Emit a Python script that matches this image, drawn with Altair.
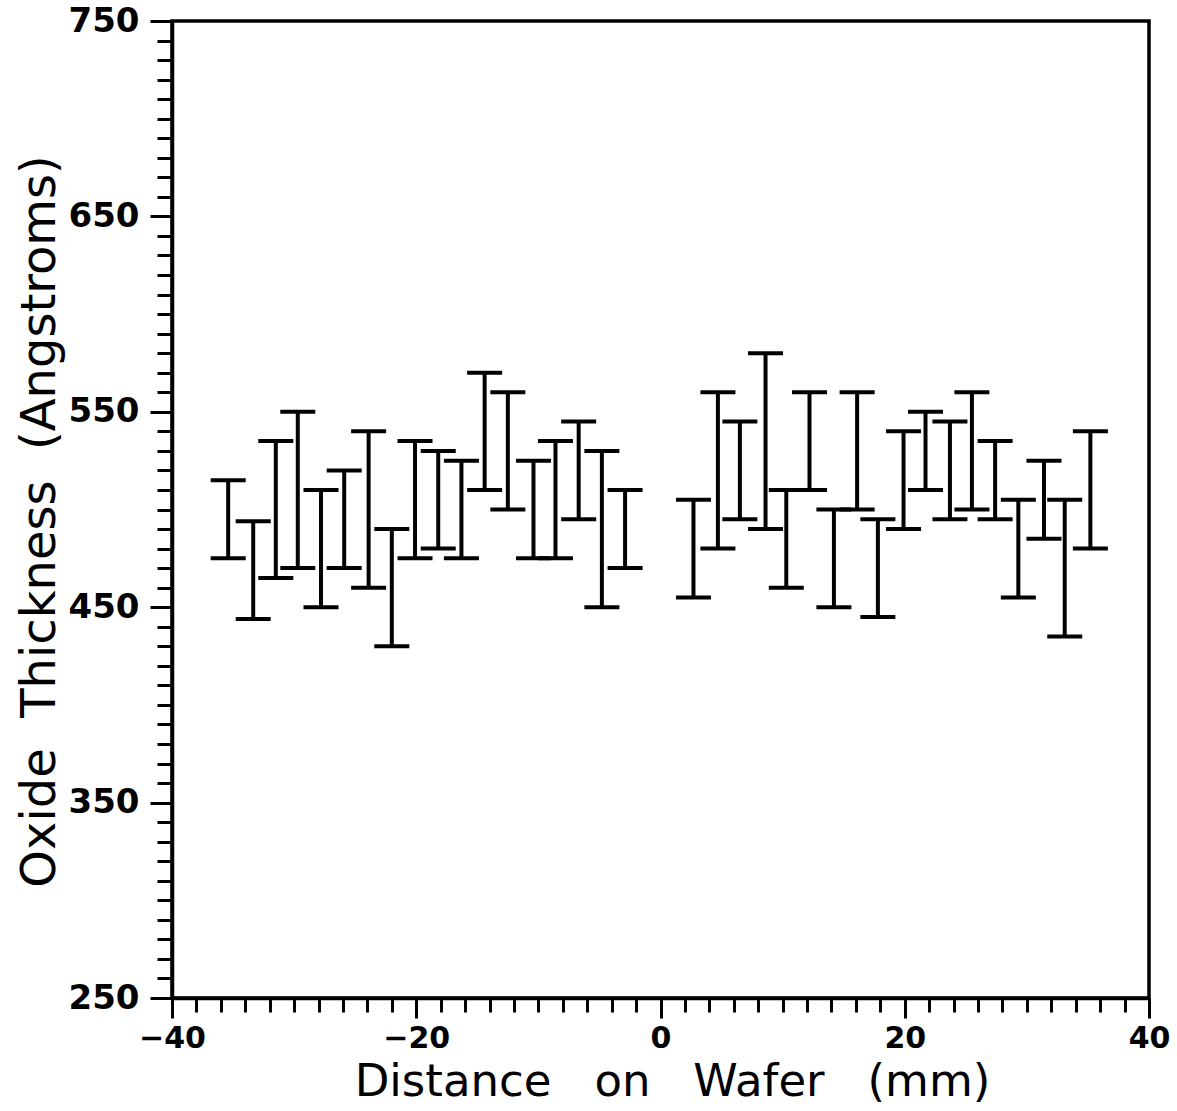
import altair as alt
import pandas as pd

# Positions on wafer (mm)
x_pos = [-35.4, -33.35, -31.5, -29.7, -27.8, -25.9, -23.9, -22.0, -20.1,
         -18.2, -16.3, -14.4, -12.5, -10.4, -8.6, -6.7, -4.8, -2.9,
         2.7, 4.7, 6.5, 8.6, 10.3, 12.2, 14.2, 16.1, 17.8,
         19.9, 21.7, 23.7, 25.5, 27.4, 29.3, 31.4, 33.1, 35.2]
# Lower and upper ends of each error bar (Angstroms)
lower = [475, 444, 465, 470, 450, 470, 460, 430, 475,
         480, 475, 510, 500, 475, 475, 495, 450, 470,
         455, 480, 495, 490, 460, 510, 450, 500, 445,
         490, 510, 495, 500, 495, 455, 485, 435, 480]
upper = [515, 494, 535, 550, 510, 520, 540, 490, 535,
         530, 525, 570, 560, 525, 535, 545, 530, 510,
         505, 560, 545, 580, 510, 560, 500, 560, 495,
         540, 550, 545, 560, 535, 505, 525, 505, 540]

x_ticks = list(range(-40, 41, 2))
y_ticks = list(range(250, 751, 10))

df = pd.DataFrame({"x": x_pos, "lo": lower, "hi": upper})

FONT = "DejaVu Sans"

x_scale = alt.Scale(domain=[-40, 40], nice=False, zero=False)
y_scale = alt.Scale(domain=[250, 750], nice=False, zero=False)

x_axis = alt.Axis(
    values=x_ticks,
    tickCount=500,
    format="d",
    title="Distance\u00a0\u00a0 on\u00a0\u00a0 Wafer\u00a0\u00a0 (mm)",
    tickSize={"condition": {"test": "datum.value % 20 === 0", "value": 20}, "value": 14},
    labelExpr="datum.value % 20 === 0 ? datum.label : ''",
    labelOverlap=False,
    labelFlush=False,
    labelFontSize=30,
    labelPadding=5,
    titleFontSize=45,
    titlePadding=6,
    titleX=500,
)
y_axis = alt.Axis(
    values=y_ticks,
    tickCount=500,
    format="d",
    title="Oxide\u00a0 Thickness\u00a0 (Angstroms)",
    tickSize={"condition": {"test": "(datum.value - 250) % 100 === 0", "value": 22}, "value": 15},
    labelExpr="(datum.value - 250) % 100 === 0 ? datum.label : ''",
    labelOverlap=False,
    labelFlush=False,
    labelFontSize=34,
    labelPadding=11,
    titleFontSize=48,
    titlePadding=4,
    titleY=500,
)

base = alt.Chart(df)

bars = base.mark_rule(color="black", strokeWidth=4).encode(
    x=alt.X("x:Q", scale=x_scale, axis=x_axis),
    y=alt.Y("lo:Q", scale=y_scale, axis=y_axis),
    y2="hi:Q",
)
cap_lo = base.mark_tick(color="black", orient="horizontal", size=35, thickness=4, opacity=1).encode(
    x=alt.X("x:Q", scale=x_scale),
    y=alt.Y("lo:Q", scale=y_scale),
)
cap_hi = base.mark_tick(color="black", orient="horizontal", size=35, thickness=4, opacity=1).encode(
    x=alt.X("x:Q", scale=x_scale),
    y=alt.Y("hi:Q", scale=y_scale),
)

chart = (
    alt.layer(bars, cap_lo, cap_hi)
    .properties(
        width=977,
        height=977,
        autosize=alt.AutoSizeParams(type="none"),
        padding={"left": 172, "top": 21, "right": 28, "bottom": 113},
        background="white",
    )
    .configure_view(stroke="black", strokeWidth=3.5)
    .configure_axis(
        domainColor="black",
        domainWidth=3.5,
        tickColor="black",
        tickWidth=3,
        grid=False,
        labelFont=FONT,
        labelFontWeight="bold",
        labelColor="black",
        titleFont=FONT,
        titleFontWeight="normal",
        titleColor="black",
    )
)

chart.save("out.html", embed_options={"renderer": "svg", "actions": False})
